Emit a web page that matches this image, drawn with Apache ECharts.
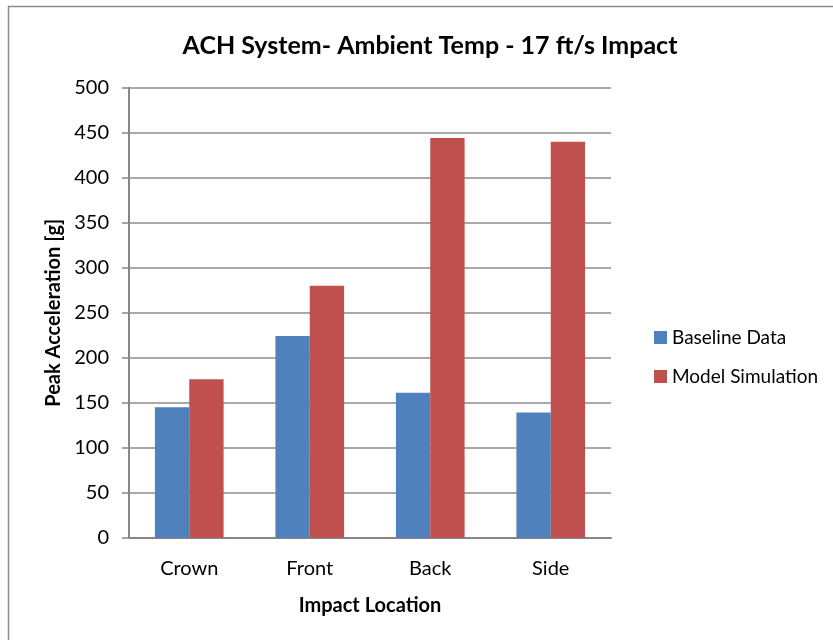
<!DOCTYPE html>
<html>
<head>
<meta charset="utf-8">
<script src="https://cdn.jsdelivr.net/npm/echarts@6/dist/echarts.min.js"></script>
<style>html,body{margin:0;padding:0;background:#fff}#c{width:833px;height:640px}</style>
</head>
<body>
<div id="c"></div>
<script>
const categories = ['Crown', 'Front', 'Back', 'Side'];
const baselineData = [145, 224, 161, 139];
const modelSimulation = [176, 280, 444, 440];
const yTicks = [0, 50, 100, 150, 200, 250, 300, 350, 400, 450, 500];

const FONT = 'Lato';
const chart = echarts.init(document.getElementById('c'), null, {renderer: 'canvas'});
chart.setOption({
  backgroundColor: '#ffffff',
  animation: false,
  textStyle: {fontFamily: FONT},
  title: {
    text: 'ACH System- Ambient Temp - 17 ft/s Impact',
    left: 425, top: 28, textAlign: 'center',
    textStyle: {fontFamily: FONT, fontSize: 25, fontWeight: 'bold', color: '#000'}
  },
  graphic: [{
    type: 'rect', shape: {x: 8.5, y: 6.5, width: 900, height: 700},
    style: {fill: 'none', stroke: '#8c8c8c', lineWidth: 1.5}, z: -1
  }],
  legend: {
    orient: 'vertical', left: 649, top: 323,
    itemWidth: 13, itemHeight: 13, itemGap: 20,
    icon: 'rect',
    textStyle: {fontFamily: FONT, fontSize: 19, color: '#000'},
    data: ['Baseline Data', 'Model Simulation']
  },
  grid: {left: 129, right: 222, top: 87.7, bottom: 102.3, containLabel: false},
  xAxis: {
    type: 'category', data: categories,
    name: 'Impact Location', nameLocation: 'middle', nameGap: 58,
    nameTextStyle: {fontFamily: FONT, fontSize: 20, fontWeight: 'bold', color: '#000'},
    axisLine: {lineStyle: {color: '#868686', width: 2}},
    axisTick: {show: false},
    axisLabel: {fontFamily: FONT, fontSize: 20, color: '#000', margin: 21}
  },
  yAxis: {
    type: 'value', min: yTicks[0], max: yTicks[yTicks.length - 1], interval: 50,
    name: 'Peak Acceleration [g]', nameLocation: 'middle', nameGap: 63,
    nameTextStyle: {fontFamily: FONT, fontSize: 20, fontWeight: 'bold', color: '#000'},
    axisLine: {show: true, lineStyle: {color: '#868686', width: 2}},
    axisTick: {show: true, length: 7, lineStyle: {color: '#868686', width: 1.5}},
    axisLabel: {fontFamily: FONT, fontSize: 20, color: '#000', margin: 20},
    splitLine: {lineStyle: {color: '#8c8c8c', width: 1.5}}
  },
  series: [
    {name: 'Baseline Data', type: 'bar', data: baselineData, barGap: '0%', barCategoryGap: '43%',
     itemStyle: {color: '#4F81BD'}},
    {name: 'Model Simulation', type: 'bar', data: modelSimulation, barGap: '0%', barCategoryGap: '43%',
     itemStyle: {color: '#C0504D'}}
  ]
});
</script>
</body>
</html>
